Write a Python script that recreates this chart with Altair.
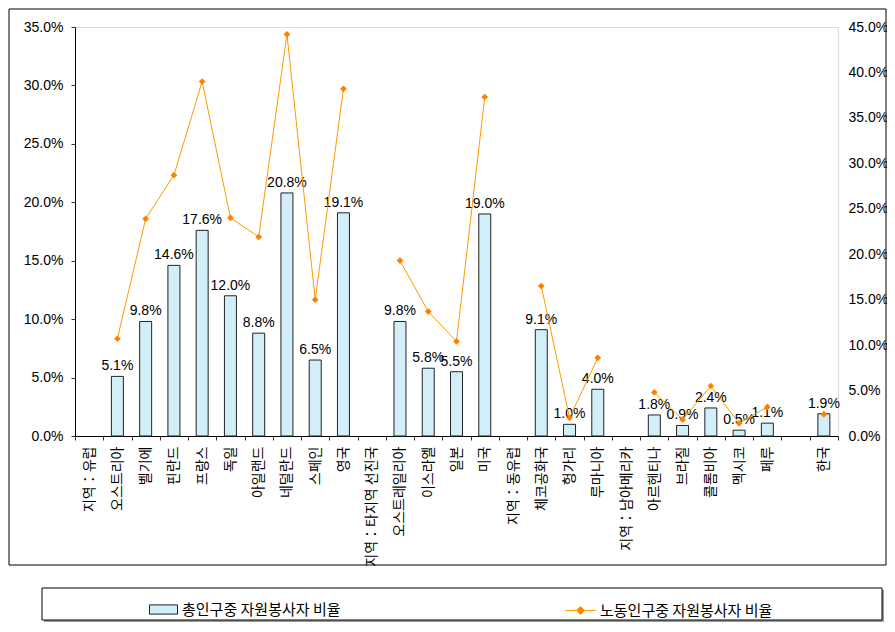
import altair as alt
import pandas as pd

cats = ["지역：유럽", "오스트리아", "벨기에", "핀란드", "프랑스", "독일", "아일랜드", "네덜란드",
        "스페인", "영국", "지역：타지역 선진국", "오스트레일리아", "이스라엘", "일본", "미국",
        "지역：동유럽", "체코공화국", "헝가리", "루마니아", "지역：남아메리카", "아르헨티나",
        "브라질", "콜롬비아", "멕시코", "페루", " ", "한국"]
total_pct = [None, 5.1, 9.8, 14.6, 17.6, 12.0, 8.8, 20.8, 6.5, 19.1, None, 9.8, 5.8, 5.5, 19.0,
             None, 9.1, 1.0, 4.0, None, 1.8, 0.9, 2.4, 0.5, 1.1, None, 1.9]
labor_pct = [None, 10.7, 23.9, 28.7, 39.0, 24.0, 21.9, 44.2, 15.0, 38.2, None, 19.3, 13.7, 10.4, 37.3,
             None, 16.5, 2.0, 8.6, None, 4.8, 1.8, 5.5, 1.4, 3.2, None, 2.4]
groups = [1, 1, 1, 1, 1, 1, 1, 1, 1, 1, 2, 2, 2, 2, 2, 3, 3, 3, 3, 4, 4, 4, 4, 4, 4, 5, 5]
left_ticks = [0, 5, 10, 15, 20, 25, 30, 35]
right_ticks = [0, 5, 10, 15, 20, 25, 30, 35, 40, 45]
series1 = "총인구중 자원봉사자 비율"
series2 = "노동인구중 자원봉사자 비율"

df_bar = pd.DataFrame([{"cat": c, "total": t / 100, "s1": series1}
                       for c, t in zip(cats, total_pct) if t is not None])
df_line = pd.DataFrame([{"cat": c, "labor": v / 100, "grp": g, "s2": series2}
                        for c, v, g in zip(cats, labor_pct, groups) if v is not None])

NUM_FONT = "Liberation Sans"
KR_FONT = "Noto Sans CJK KR"

x_scale = alt.Scale(domain=cats, paddingInner=0, paddingOuter=0)
x_axis = alt.Axis(labelAngle=-90, labelAlign="right", labelBaseline="middle", labelPadding=6,
                  labelFont=KR_FONT, labelFontSize=14, labelColor="black", labelLimit=300,
                  tickBand="extent", tickSize=4, tickColor="#333333", domainColor="black",
                  labelOverlap=False, title=None)
x_enc = alt.X("cat:N", scale=x_scale, sort=cats, axis=x_axis)

yl_scale = alt.Scale(domain=[0, 0.35], nice=False)
yl_axis = alt.Axis(values=[round(v / 100, 4) for v in left_ticks], format=".1%", grid=False,
                   labelFont=NUM_FONT, labelFontSize=14, labelColor="black", labelPadding=8,
                   tickSize=4, tickColor="#333333", domainColor="black", title=None)
yr_scale = alt.Scale(domain=[0, 0.45], nice=False)
yr_axis = alt.Axis(orient="right", values=[round(v / 100, 4) for v in right_ticks], format=".1%",
                   grid=False, labelFont=NUM_FONT, labelFontSize=14, labelColor="black",
                   labelPadding=10, ticks=False, domain=False, title=None)
yl_enc = alt.Y("total:Q", scale=yl_scale, axis=yl_axis)
yr_enc = alt.Y("labor:Q", scale=yr_scale, axis=yr_axis)

bars = alt.Chart(df_bar).mark_bar(size=12, stroke="#222222", strokeWidth=1).encode(
    x=x_enc,
    y=yl_enc,
    fill=alt.Fill("s1:N", scale=alt.Scale(domain=[series1], range=["#d2eef9"]),
                  legend=alt.Legend(orient="none", legendX=74, legendY=568, title=None,
                                    labelFont=KR_FONT, labelFontSize=15, labelColor="black",
                                    symbolType="M-1,-0.33H1V0.33H-1Z", symbolSize=784,
                                    symbolStrokeColor="#222222", symbolStrokeWidth=1, padding=0,
                                    labelLimit=400)),
)
labels = alt.Chart(df_bar).mark_text(baseline="bottom", dy=-3, fontSize=14, font=NUM_FONT,
                                     color="black").encode(
    x=x_enc,
    y=yl_enc,
    text=alt.Text("total:Q", format=".1%"),
)
line = alt.Chart(df_line).mark_line(strokeWidth=1).encode(
    x=x_enc,
    y=yr_enc,
    detail="grp:N",
    stroke=alt.Stroke("s2:N", scale=alt.Scale(domain=[series2], range=["#FF9900"]),
                      legend=alt.Legend(orient="none", legendX=490, legendY=568, title=None,
                                        labelFont=KR_FONT, labelFontSize=15, labelColor="black",
                                        symbolType="M-1,0H1M0,-0.27L0.27,0L0,0.27L-0.27,0Z",
                                        symbolSize=900, symbolStrokeColor="#FF9900",
                                        symbolFillColor="#FF8000", symbolStrokeWidth=1,
                                        padding=0, labelLimit=400)),
)
points = alt.Chart(df_line).mark_point(shape="diamond", filled=True, size=45, color="#FF8000",
                                       opacity=1).encode(
    x=x_enc,
    y=yr_enc,
)

one = pd.DataFrame({"k": [0]})
frame = alt.Chart(one).mark_rect(fillOpacity=0, stroke="black", strokeWidth=1).encode(
    x=alt.value(-66), x2=alt.value(811), y=alt.value(-18), y2=alt.value(538))
legend_shadow = alt.Chart(one).mark_rect(fill="#9a9a9a").encode(
    x=alt.value(-31), x2=alt.value(809), y=alt.value(563), y2=alt.value(595))
legend_box = alt.Chart(one).mark_rect(fill="white", stroke="black", strokeWidth=1).encode(
    x=alt.value(-33), x2=alt.value(807), y=alt.value(561), y2=alt.value(593))

left = alt.layer(bars, labels)
right = alt.layer(line, points)

chart = alt.layer(frame, legend_shadow, legend_box, left, right).resolve_scale(
    y="independent"
).properties(
    width=763, height=409,
    padding={"left": 67, "top": 19, "right": 49, "bottom": 188},
    autosize=alt.AutoSizeParams(type="none"),
).configure_view(stroke="#a0a0a0", strokeWidth=1).configure(background="white")

chart.save("out.html", embed_options={"renderer": "svg", "actions": False})
